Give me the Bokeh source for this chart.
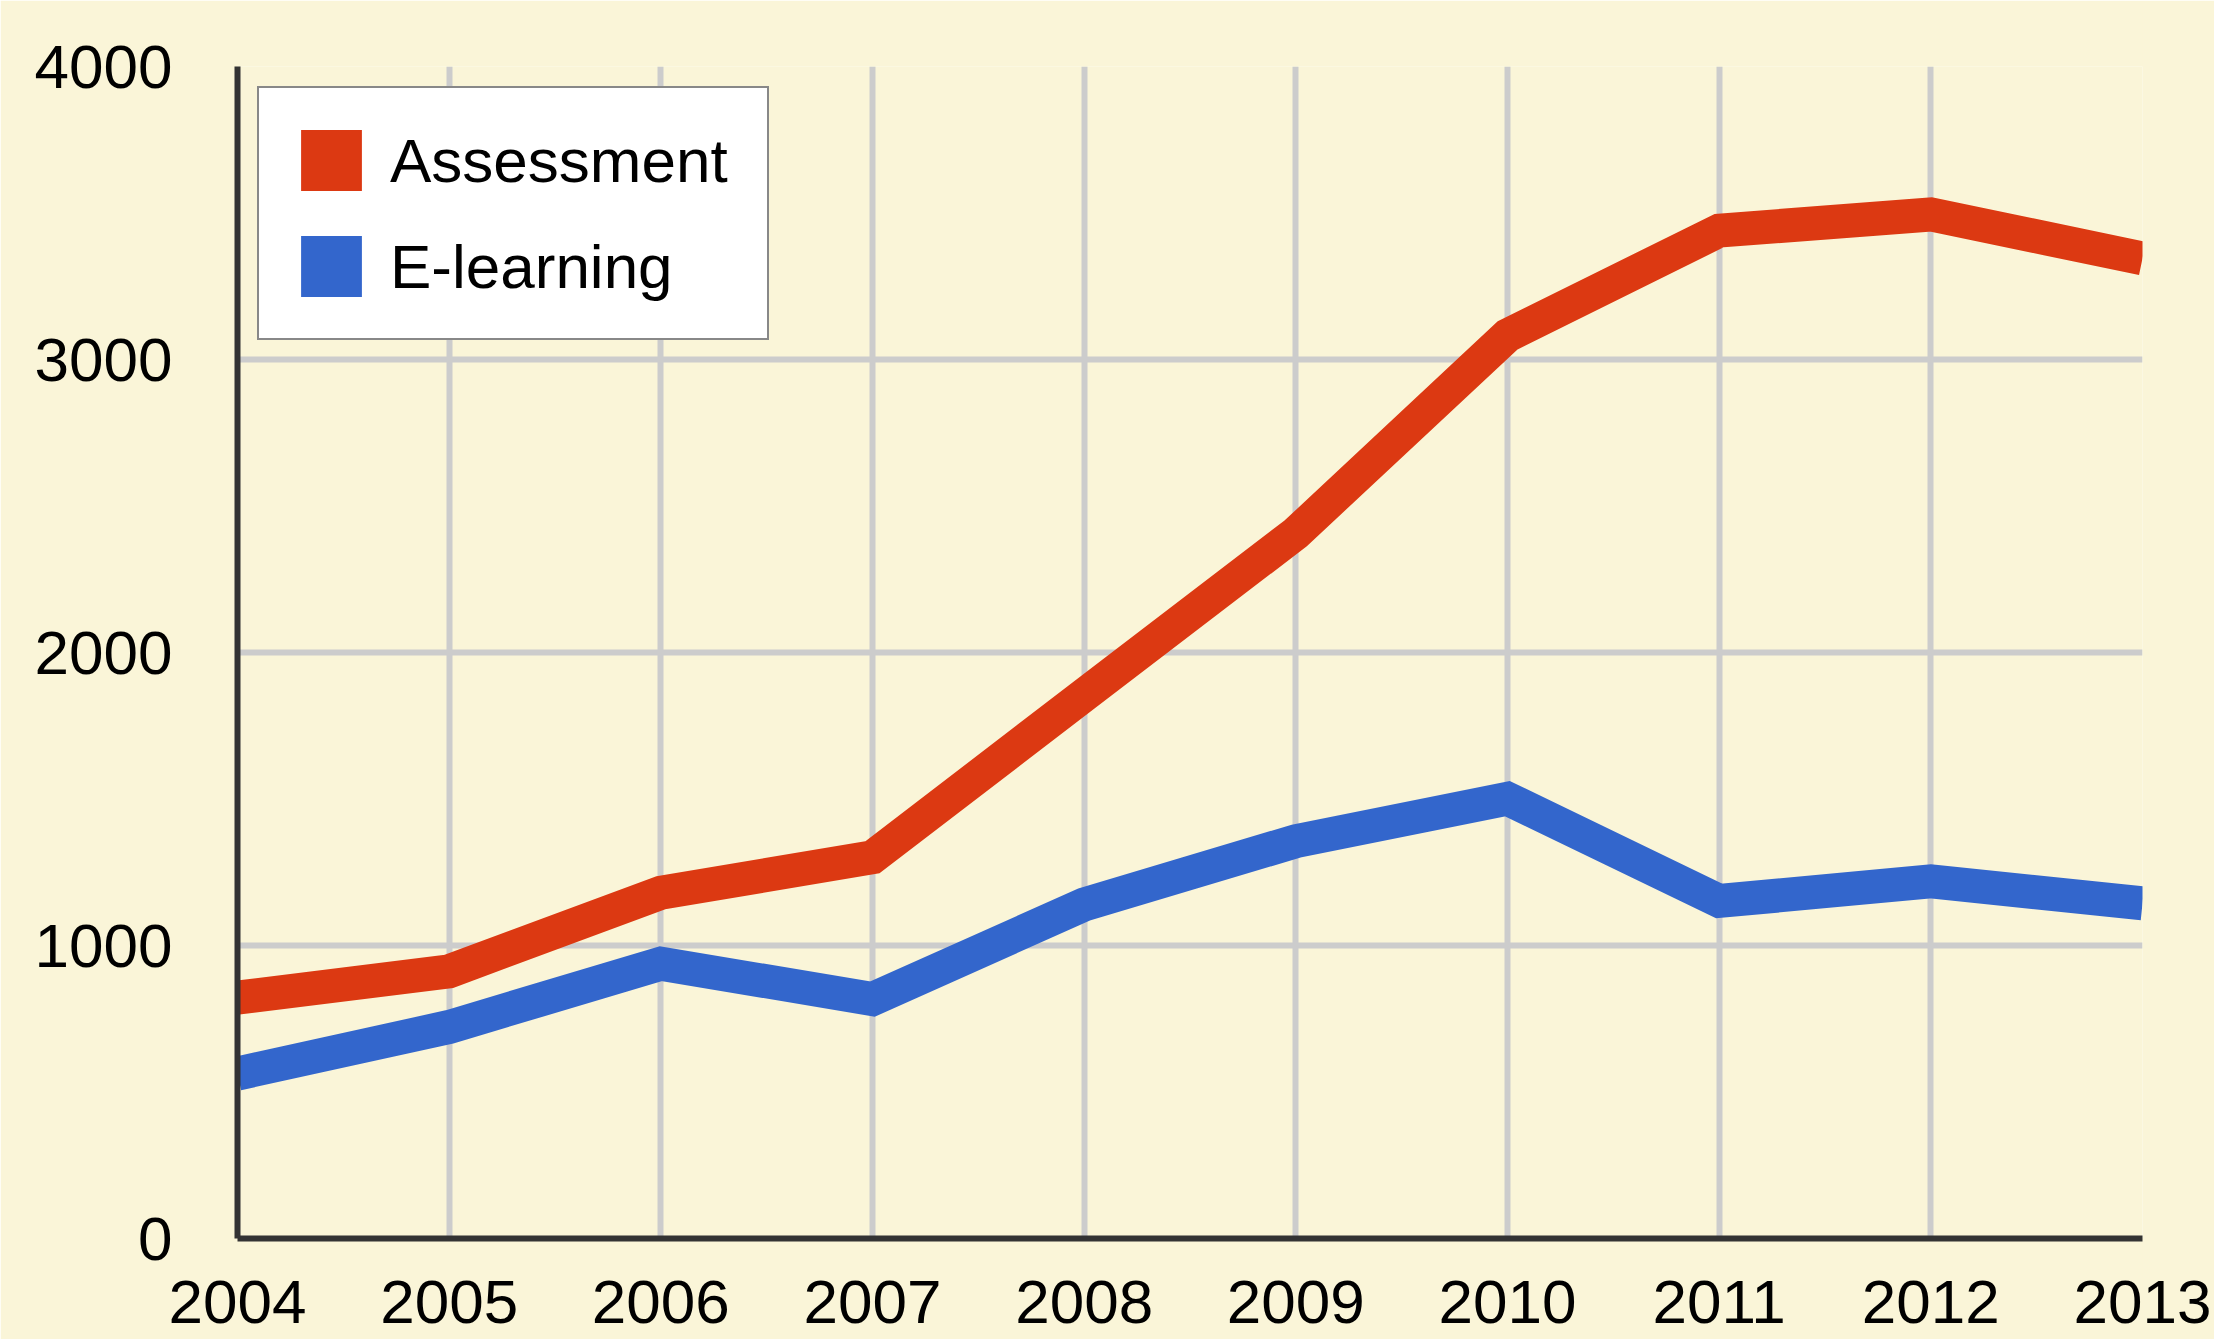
from bokeh.plotting import figure
from bokeh.models import Range1d, FixedTicker, Legend, LegendItem
from bokeh.embed import file_html
from bokeh.resources import INLINE

# ---- data ----
years = [2004, 2005, 2006, 2007, 2008, 2009, 2010, 2011, 2012, 2013]
assessment = [822, 912, 1180, 1301, 1855, 2407, 3082, 3440, 3495, 3345]
elearning = [563, 722, 938, 817, 1140, 1356, 1501, 1152, 1219, 1144]
series_names = ["Assessment", "E-learning"]
x_tick_labels = ["2004", "2005", "2006", "2007", "2008", "2009", "2010", "2011", "2012", "2013"]
y_ticks = [0, 1000, 2000, 3000, 4000]
y_tick_labels = ["0", "1000", "2000", "3000", "4000"]

# ---- style ----
BG = "#FAF5D8"
RED = "#DC3912"
BLUE = "#3366CC"
GRID = "#CCCCCC"
AXIS = "#333333"
FONT = "Liberation Sans"
FS = "62px"

p = figure(width=2214, height=1339, output_backend="svg", toolbar_location=None,
           x_range=Range1d(years[0], years[-1]), y_range=Range1d(y_ticks[0], y_ticks[-1]),
           min_border_left=237, min_border_right=72, min_border_top=66, min_border_bottom=101)
p.background_fill_color = BG
p.border_fill_color = BG
p.outline_line_color = None

p.xaxis.ticker = FixedTicker(ticks=years)
p.xaxis.major_label_overrides = {y: l for y, l in zip(years, x_tick_labels)}
p.yaxis.ticker = FixedTicker(ticks=y_ticks)
p.yaxis.major_label_overrides = {v: l for v, l in zip(y_ticks, y_tick_labels)}

for ax in (p.xaxis, p.yaxis):
    ax.axis_line_color = AXIS
    ax.axis_line_width = 6
    ax.major_tick_line_color = None
    ax.minor_tick_line_color = None
    ax.major_tick_out = 0
    ax.major_tick_in = 0
    ax.major_label_text_font = FONT
    ax.major_label_text_font_size = FS
    ax.major_label_text_color = "black"
p.xaxis.major_label_standoff = 42
p.yaxis.major_label_standoff = 65

p.xgrid.ticker = FixedTicker(ticks=years)
p.ygrid.ticker = FixedTicker(ticks=y_ticks)
for g in (p.xgrid, p.ygrid):
    g.grid_line_color = GRID
    g.grid_line_width = 6

p.line(years, assessment, line_width=34, line_color=RED, line_join="miter", line_cap="butt")
p.line(years, elearning, line_width=34, line_color=BLUE, line_join="miter", line_cap="butt")

# invisible zero-size rects used only for the square legend swatches
ra = p.rect(x=years, y=assessment, width=0, height=0, fill_color=RED, line_color=None)
rb = p.rect(x=years, y=elearning, width=0, height=0, fill_color=BLUE, line_color=None)

legend = Legend(items=[LegendItem(label=series_names[0], renderers=[ra]),
                       LegendItem(label=series_names[1], renderers=[rb])],
                location="top_left", margin=20, padding=34, spacing=30,
                glyph_width=76, glyph_height=76, label_standoff=21, label_width=343,
                label_text_font=FONT, label_text_font_size=FS, label_text_color="black",
                border_line_color="#111111", border_line_width=2,
                background_fill_color="white", background_fill_alpha=1.0)
p.add_layout(legend)

open("out.html", "w").write(file_html(p, INLINE))
